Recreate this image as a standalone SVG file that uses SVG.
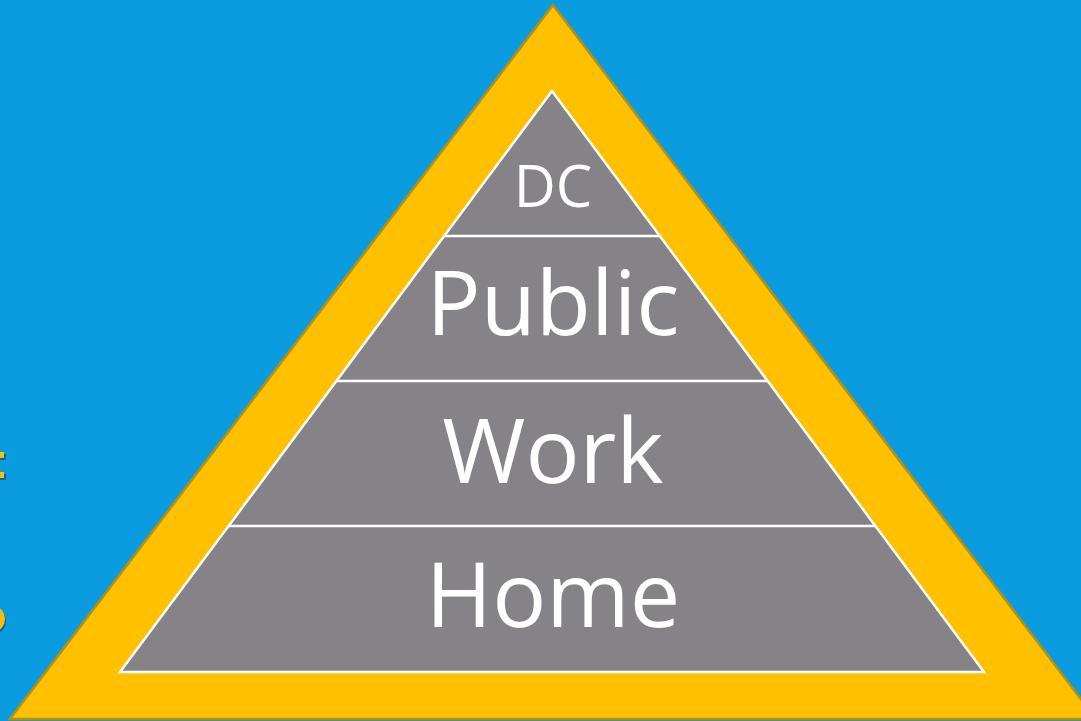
<svg xmlns="http://www.w3.org/2000/svg" width="1081" height="721" viewBox="0 0 1081 721">
  <style>
    .band-line { stroke: #ffffff; stroke-width: 2.5; fill: none; }
    .label { font-family: "Open Sans", "Noto Sans", "Liberation Sans", sans-serif; fill: #ffffff; text-anchor: middle; }
    .frag { fill: #ffc000; }
    .frag-shadow { fill: #0a4f78; opacity: 0.7; }
  </style>
  <rect x="0" y="0" width="1081" height="721" fill="#0b9bdf"/>

  <!-- clipped title glyph edges on the left margin -->
  <g id="margin-fragments">
    <rect class="frag-shadow" x="0" y="454" width="6" height="6"/>
    <rect class="frag" x="0" y="452" width="4" height="6"/>
    <rect class="frag-shadow" x="0" y="474" width="6" height="6"/>
    <rect class="frag" x="0" y="472" width="4" height="6"/>
    <ellipse class="frag-shadow" cx="-4" cy="621" rx="10" ry="12"/>
    <ellipse class="frag" cx="-5" cy="619" rx="10" ry="12"/>
  </g>

  <!-- outer gold frame -->
  <g id="frame">
    <polygon points="553,5 10,719 1096,719" fill="#ffc000" stroke="#b8900a" stroke-width="2.5" stroke-linejoin="miter"/>
  </g>

  <!-- grey pyramid -->
  <g id="pyramid">
    <polygon points="552,91 120,672 984,672" fill="#858388" stroke="#ffffff" stroke-width="2.5" stroke-linejoin="miter"/>
  </g>

  <g id="connectors">
    <line class="band-line" x1="444" y1="236" x2="660" y2="236"/>
    <line class="band-line" x1="336" y1="381" x2="768" y2="381"/>
    <line class="band-line" x1="228" y1="526" x2="876" y2="526"/>
  </g>

  <g id="tier-dc">
    <text class="label" x="553" y="207" font-size="58">DC</text>
  </g>
  <g id="tier-public">
    <text class="label" x="553" y="335" font-size="90">Public</text>
  </g>
  <g id="tier-work">
    <text class="label" x="553" y="483" font-size="90">Work</text>
  </g>
  <g id="tier-home">
    <text class="label" x="553" y="627" font-size="90">Home</text>
  </g>
</svg>
